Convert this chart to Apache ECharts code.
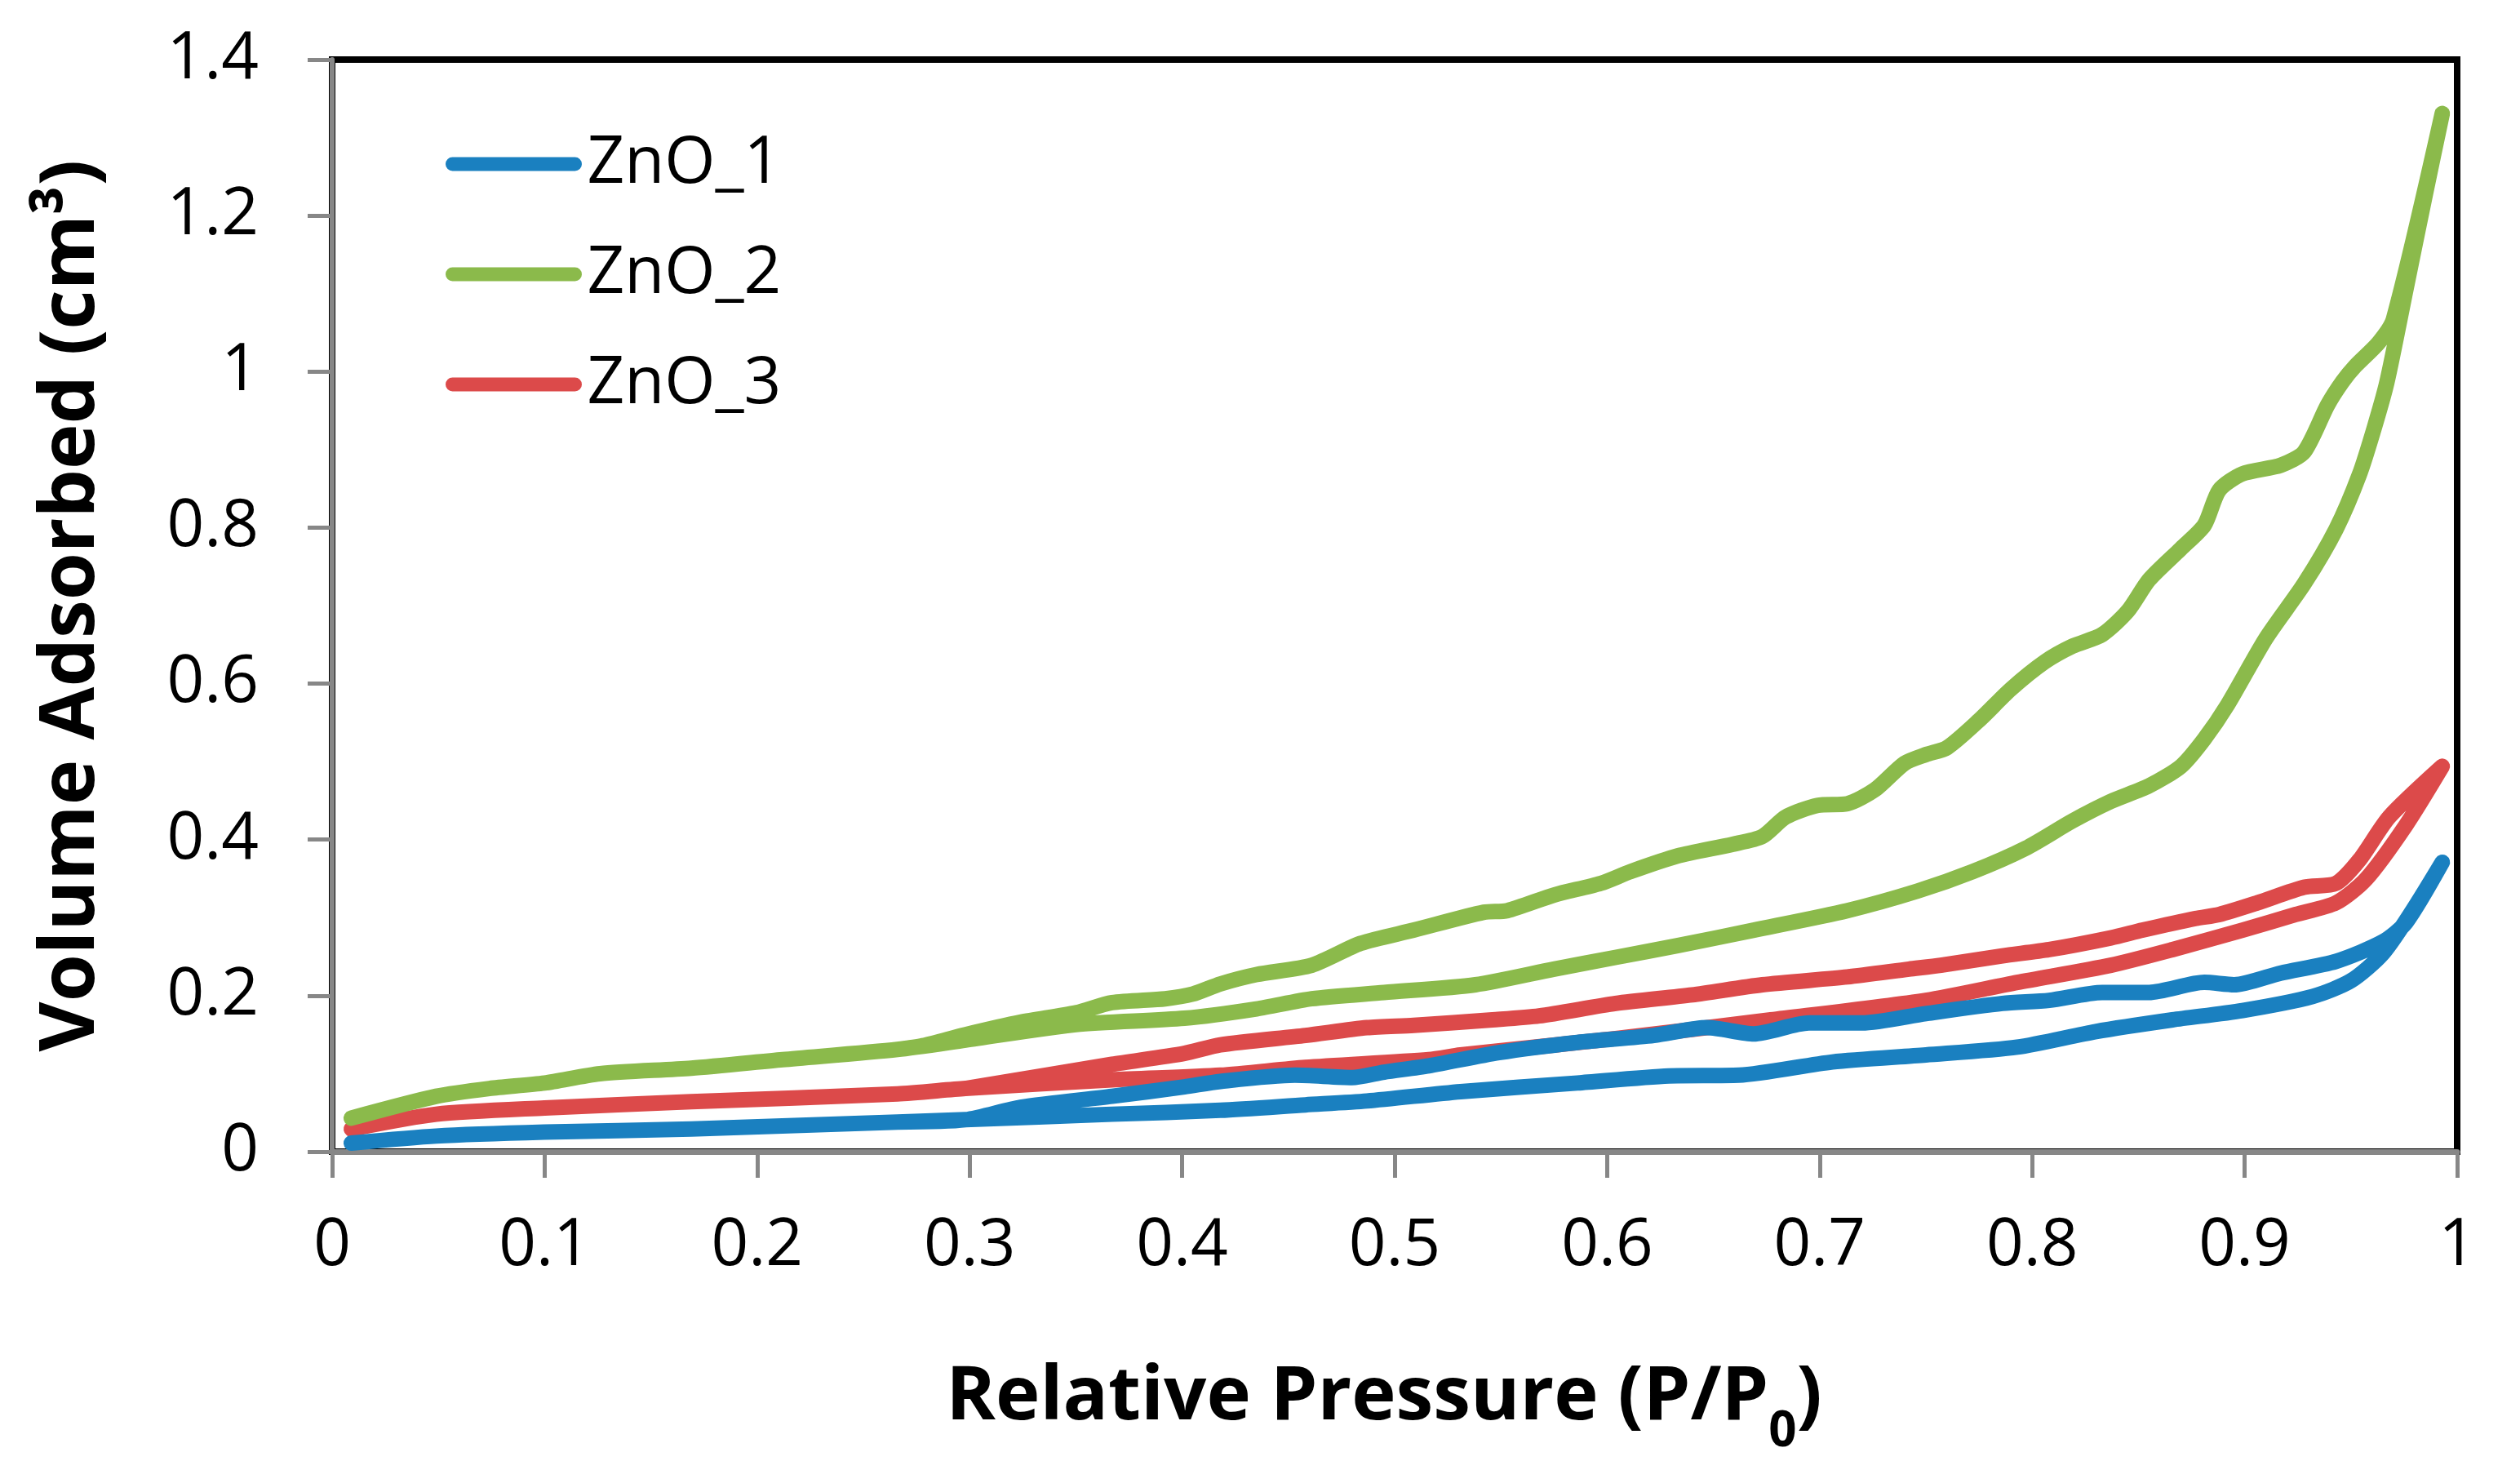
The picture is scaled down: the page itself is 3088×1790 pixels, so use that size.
<!DOCTYPE html>
<html>
  <head>
    <title></title>
    <meta charset="UTF-8" />
    <script src="https://cdn.jsdelivr.net/npm/echarts@6/dist/echarts.min.js"></script>
    <style>
      body { margin: 0; background: #fff; }
    </style>
  </head>
  <body>
    <div id="main"></div>
    <script>
      const width = 3088;
      const height = 1790;
      const main = document.getElementById('main');
      main.style.width = `${width}px`;
      main.style.height = `${height}px`;

      const seriesNames = ['ZnO_1', 'ZnO_2', 'ZnO_3'];
      const xTicks = [0, 0.1, 0.2, 0.3, 0.4, 0.5, 0.6, 0.7, 0.8, 0.9, 1];
      const yTicks = [0, 0.2, 0.4, 0.6, 0.8, 1, 1.2, 1.4];

      // [P/P0, volume], adsorption branch (rising)
      const zno1Ads = [
        [0.009, 0.011], [0.049, 0.020], [0.100, 0.025], [0.169, 0.029], [0.266, 0.038],
        [0.298, 0.041], [0.367, 0.048], [0.418, 0.053], [0.458, 0.060], [0.487, 0.065],
        [0.531, 0.077], [0.586, 0.088], [0.629, 0.097], [0.662, 0.098], [0.706, 0.115],
        [0.750, 0.124], [0.793, 0.134], [0.830, 0.154], [0.866, 0.169], [0.899, 0.181],
        [0.932, 0.199], [0.950, 0.219], [0.965, 0.254], [0.979, 0.309], [0.993, 0.371],
      ];
      // desorption branch (falling back)
      const zno1Des = [
        [0.976, 0.294], [0.965, 0.269], [0.943, 0.244], [0.917, 0.229], [0.895, 0.214],
        [0.881, 0.217], [0.855, 0.204], [0.833, 0.204], [0.808, 0.194], [0.786, 0.190],
        [0.750, 0.177], [0.720, 0.165], [0.695, 0.165], [0.669, 0.151], [0.647, 0.159],
        [0.622, 0.149], [0.586, 0.140], [0.549, 0.127], [0.516, 0.110], [0.495, 0.102],
        [0.480, 0.095], [0.453, 0.098], [0.418, 0.090], [0.401, 0.083], [0.367, 0.071],
        [0.324, 0.057], [0.298, 0.041], [0.266, 0.038],
      ];

      const zno2Ads = [
        [0.009, 0.043], [0.049, 0.071], [0.074, 0.081], [0.100, 0.088], [0.126, 0.100],
        [0.169, 0.107], [0.212, 0.118], [0.266, 0.131], [0.298, 0.143], [0.350, 0.163],
        [0.401, 0.171], [0.435, 0.183], [0.461, 0.196], [0.495, 0.204], [0.538, 0.214],
        [0.575, 0.234], [0.604, 0.249], [0.633, 0.264], [0.669, 0.284], [0.713, 0.309],
        [0.746, 0.334], [0.772, 0.359], [0.797, 0.389], [0.819, 0.424], [0.837, 0.449],
        [0.855, 0.469], [0.870, 0.494], [0.881, 0.529], [0.892, 0.573], [0.910, 0.658],
        [0.928, 0.728], [0.943, 0.798], [0.954, 0.868], [0.961, 0.928], [0.967, 0.987],
        [0.976, 1.107], [0.985, 1.227], [0.993, 1.331],
      ];
      const zno2Des = [
        [0.970, 1.067], [0.963, 1.037], [0.952, 1.007], [0.946, 0.987], [0.939, 0.957],
        [0.928, 0.897], [0.917, 0.880], [0.899, 0.869], [0.888, 0.848], [0.881, 0.803],
        [0.870, 0.773], [0.855, 0.733], [0.845, 0.693], [0.833, 0.663], [0.819, 0.648],
        [0.806, 0.628], [0.790, 0.593], [0.775, 0.553], [0.760, 0.518], [0.750, 0.509],
        [0.740, 0.498], [0.726, 0.464], [0.713, 0.446], [0.699, 0.444], [0.684, 0.429],
        [0.673, 0.404], [0.659, 0.394], [0.633, 0.379], [0.611, 0.359], [0.597, 0.344],
        [0.575, 0.329], [0.553, 0.309], [0.542, 0.307], [0.509, 0.284], [0.484, 0.267],
        [0.461, 0.239], [0.435, 0.227], [0.418, 0.215], [0.405, 0.202], [0.392, 0.196],
        [0.367, 0.191], [0.350, 0.178], [0.324, 0.166], [0.298, 0.150], [0.278, 0.136],
        [0.266, 0.131],
      ];

      const zno3Ads = [
        [0.009, 0.029], [0.049, 0.048], [0.100, 0.056], [0.169, 0.064], [0.266, 0.074],
        [0.298, 0.081], [0.367, 0.092], [0.418, 0.098], [0.458, 0.108], [0.516, 0.118],
        [0.531, 0.124], [0.604, 0.145], [0.677, 0.169], [0.750, 0.194], [0.793, 0.217],
        [0.837, 0.239], [0.866, 0.259], [0.899, 0.284], [0.924, 0.304], [0.943, 0.319],
        [0.957, 0.349], [0.976, 0.419], [0.993, 0.494],
      ];
      const zno3Des = [
        [0.968, 0.429], [0.954, 0.374], [0.943, 0.344], [0.928, 0.339], [0.906, 0.319],
        [0.888, 0.304], [0.877, 0.299], [0.852, 0.284], [0.837, 0.274], [0.808, 0.259],
        [0.786, 0.251], [0.757, 0.239], [0.742, 0.234], [0.713, 0.224], [0.673, 0.214],
        [0.640, 0.201], [0.604, 0.190], [0.568, 0.174], [0.546, 0.169], [0.509, 0.162],
        [0.487, 0.159], [0.458, 0.149], [0.418, 0.137], [0.401, 0.126], [0.367, 0.112],
        [0.298, 0.081],
      ];

      const colors = ['#1a80c0', '#8bba4b', '#dc4a4a'];
      const loops = [
        zno1Ads.concat(zno1Des),
        zno2Ads.concat(zno2Des),
        zno3Ads.concat(zno3Des),
      ];

      const FONT = '"Open Sans", "Noto Sans", sans-serif';
      const axisGrey = '#878787';
      const LINE_W = 19;

      const myChart = echarts.init(main);
      const option = {
        animation: false,
        textStyle: { fontFamily: FONT },
        grid: {
          left: 407,
          right: 77,
          top: 73,
          bottom: 374,
          show: true,
          borderColor: '#000',
          borderWidth: 8,
        },
        legend: {
          data: seriesNames,
          orient: 'vertical',
          left: 541,
          top: 156,
          itemWidth: 150,
          itemHeight: 80,
          itemGap: 55,
          textStyle: { fontSize: 80, color: '#000', fontFamily: FONT, padding: [0, 0, 0, 10] },
          lineStyle: { width: 17, cap: 'round' },
          itemStyle: { opacity: 0 },
        },
        xAxis: {
          type: 'value',
          min: xTicks[0],
          max: xTicks[xTicks.length - 1],
          interval: 0.1,
          name: '{a|Relative Pressure (P/P}{s|0}{a|)}',
          nameLocation: 'middle',
          nameGap: 256,
          nameTextStyle: {
            padding: [0, 26, 0, 0],
            rich: {
              a: { fontSize: 92, fontWeight: 'bold', color: '#000', fontFamily: FONT, lineHeight: 100, verticalAlign: 'top' },
              s: { fontSize: 60, fontWeight: 'bold', color: '#000', fontFamily: FONT, lineHeight: 60, padding: [58, 0, 0, 0], verticalAlign: 'top' },
            },
          },
          axisLine: { show: true, onZero: false, lineStyle: { color: axisGrey, width: 7 } },
          axisTick: { show: true, inside: false, length: 32, lineStyle: { color: axisGrey, width: 5 } },
          axisLabel: {
            fontSize: 80,
            color: '#000',
            margin: 76,
            fontFamily: FONT,
            formatter: (v) => String(+v.toFixed(1)),
          },
          splitLine: { show: false },
        },
        yAxis: {
          type: 'value',
          min: yTicks[0],
          max: yTicks[yTicks.length - 1],
          interval: 0.2,
          name: 'Volume Adsorbed (cm³)',
          nameLocation: 'middle',
          nameGap: 272,
          nameTextStyle: { fontSize: 94, fontWeight: 'bold', color: '#000', fontFamily: FONT },
          axisLine: { show: true, onZero: false, lineStyle: { color: axisGrey, width: 6 } },
          axisTick: { show: true, inside: false, length: 30, lineStyle: { color: axisGrey, width: 5 } },
          axisLabel: {
            fontSize: 80,
            color: '#000',
            margin: 90,
            fontFamily: FONT,
            formatter: (v) => String(+v.toFixed(1)),
          },
          splitLine: { show: false },
        },
        series: seriesNames.map((name, i) => ({
          name: name,
          type: 'line',
          data: loops[i],
          showSymbol: false,
          symbol: 'none',
          smooth: 0.25,
          color: colors[i],
          lineStyle: { color: colors[i], width: LINE_W, cap: 'round', join: 'round' },
          z: 3 - i,
        })),
      };
      myChart.setOption(option);
    </script>
  </body>
</html>
